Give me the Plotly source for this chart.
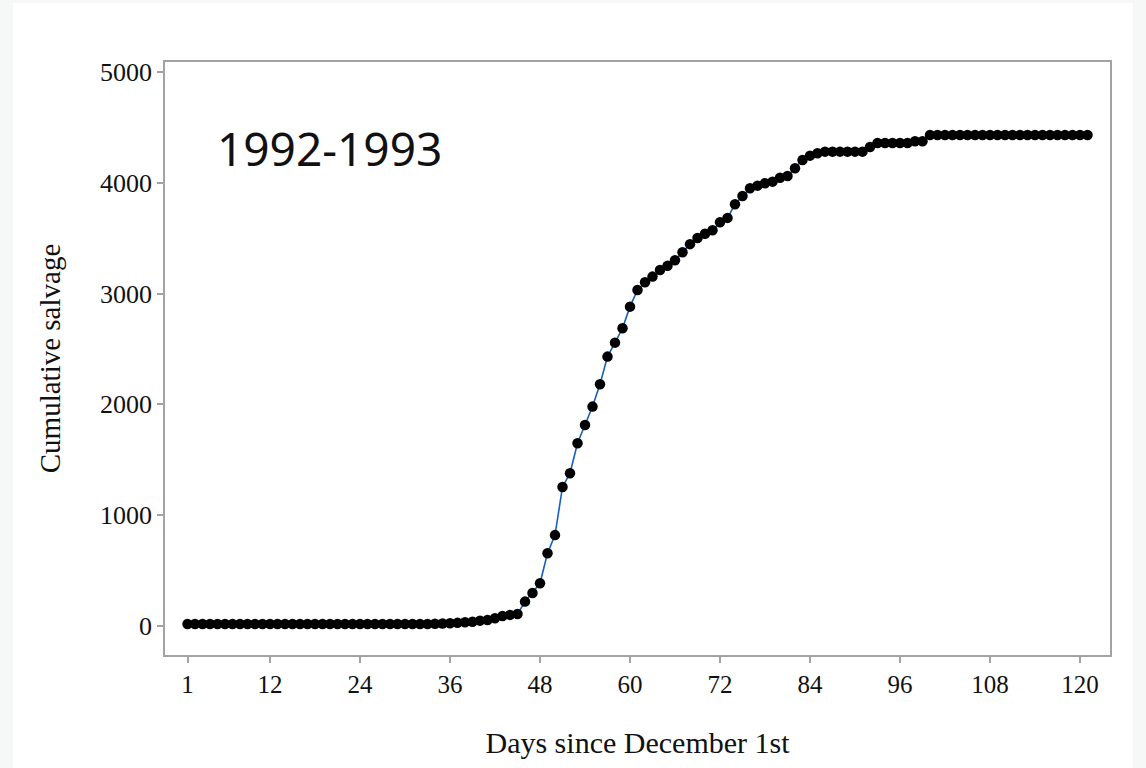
import plotly.graph_objects as go

# Day index (days since December 1st) and cumulative salvage for the 1992-1993 season
days = list(range(1, 122))
cumulative_salvage = [
    18, 18, 18, 18, 18, 18, 18, 18, 18, 18,
    18, 18, 18, 18, 18, 18, 18, 18, 18, 18,
    18, 18, 18, 18, 18, 18, 18, 18, 18, 18,
    18, 18, 18, 20, 22, 24, 28, 33, 38, 48,
    54, 70, 90, 100, 108, 220, 298, 385, 656, 820,
    1255, 1378, 1649, 1814, 1980, 2182, 2431, 2557, 2687, 2882,
    3032, 3102, 3153, 3213, 3250, 3300, 3373, 3446, 3502, 3540,
    3572, 3643, 3683, 3806, 3881, 3950, 3974, 3996, 4010, 4046,
    4061, 4131, 4206, 4245, 4266, 4281, 4281, 4281, 4281, 4281,
    4281, 4323, 4359, 4359, 4359, 4359, 4359, 4374, 4374, 4431,
    4431, 4431, 4431, 4431, 4431, 4431, 4431, 4431, 4431, 4431,
    4431, 4431, 4431, 4431, 4431, 4431, 4431, 4431, 4431, 4431,
    4431,
]

x_tick_values = [1, 12, 24, 36, 48, 60, 72, 84, 96, 108, 120]
y_tick_values = [0, 1000, 2000, 3000, 4000, 5000]
season_label = "1992-1993"

axis_gray = "#a3a3a3"
serif = "Liberation Serif, Times New Roman, serif"

fig = go.Figure()
fig.add_trace(go.Scatter(
    x=days,
    y=cumulative_salvage,
    mode="lines+markers",
    line=dict(color="#1560bd", width=1.6),
    marker=dict(color="black", size=10.5, line=dict(width=0)),
    showlegend=False,
))

# white page panel over the light outer background
fig.add_shape(
    type="rect", xref="paper", yref="paper",
    x0=-0.1608, x1=1.0243, y0=-0.1906, y1=1.0995,
    fillcolor="white", line=dict(width=0), layer="below",
)

fig.add_annotation(
    x=4.7, y=4314, xref="x", yref="y",
    text=season_label, showarrow=False,
    xanchor="left", yanchor="middle",
    font=dict(family="Noto Sans, Open Sans, sans-serif", size=46, color="#111"),
)

fig.update_xaxes(
    range=[-2.0, 124.0],
    tickmode="array", tickvals=x_tick_values,
    ticks="outside", ticklen=6, tickwidth=1.5, tickcolor=axis_gray,
    showline=True, linecolor=axis_gray, linewidth=1.5, mirror=True,
    showgrid=False, zeroline=False,
    tickfont=dict(family=serif, size=25, color="#111"),
    title=dict(text="Days since December 1st", standoff=35,
               font=dict(family=serif, size=30, color="#111")),
)
fig.update_yaxes(
    range=[-262, 5090],
    tickmode="array", tickvals=y_tick_values,
    ticks="outside", ticklen=6, tickwidth=1.5, tickcolor=axis_gray,
    showline=True, linecolor=axis_gray, linewidth=1.5, mirror=True,
    showgrid=False, zeroline=False,
    tickfont=dict(family=serif, size=26, color="#111"),
    title=dict(text="Cumulative salvage", standoff=31,
               font=dict(family=serif, size=29, color="#111")),
)

fig.update_layout(
    width=1146, height=768,
    margin=dict(l=165, r=36, t=62, b=113, autoexpand=False),
    paper_bgcolor="#f6f8f8",
    plot_bgcolor="white",
)

fig.write_html("out.html")
